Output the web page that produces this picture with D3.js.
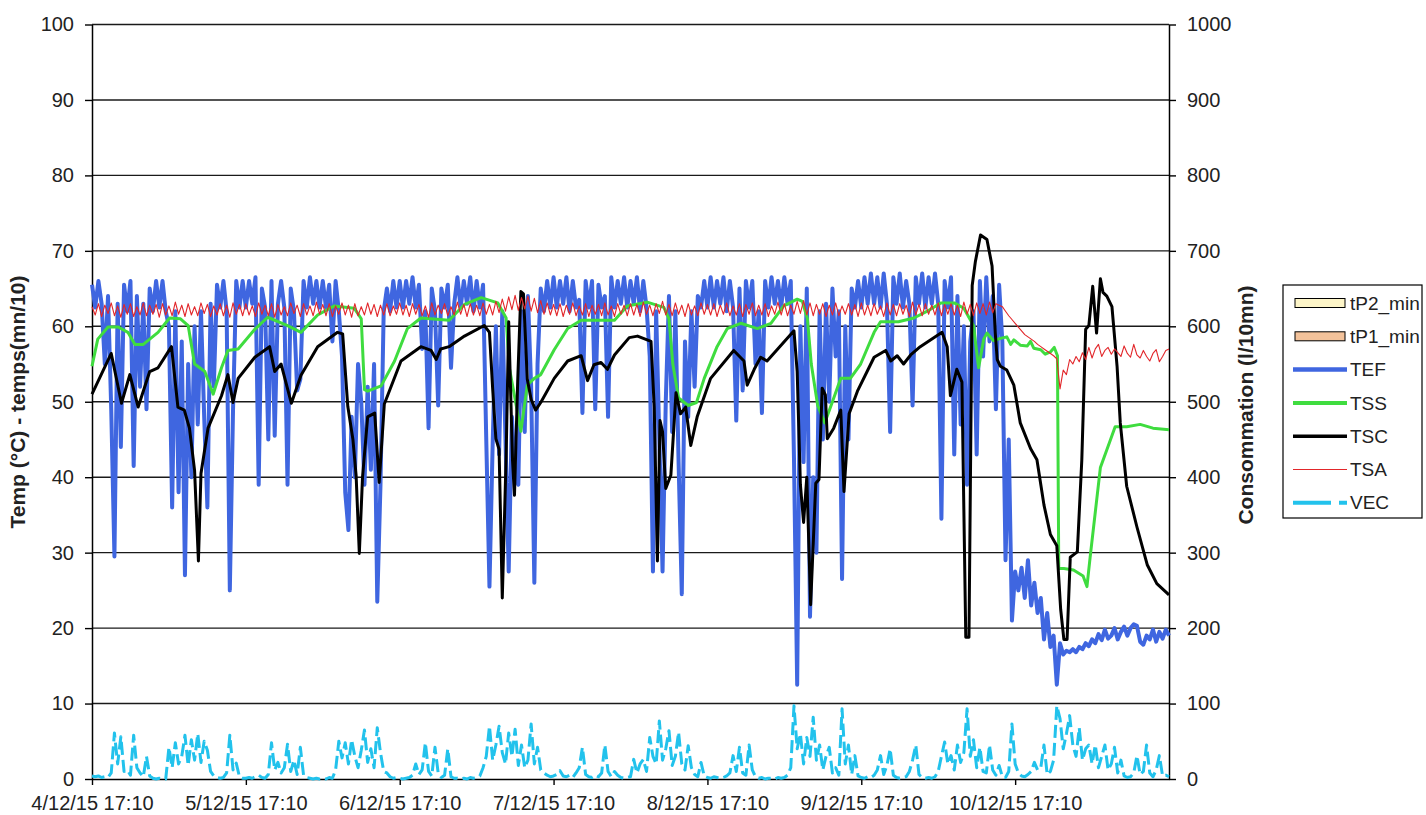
<!DOCTYPE html>
<html>
<head>
<meta charset="utf-8">
<script src="https://cdn.jsdelivr.net/npm/d3@7"></script>
<style>
  body { margin: 0; background: #fff; }
  text { font-family: "Liberation Sans", Arial, sans-serif; }
</style>
</head>
<body>
<script>
// Étiquettes de l'axe du temps (une par jour)
const joursLabels = ["4/12/15 17:10", "5/12/15 17:10", "6/12/15 17:10", "7/12/15 17:10",
  "8/12/15 17:10", "9/12/15 17:10", "10/12/15 17:10"]
const joursHeures = [0, 24, 48, 72, 96, 120, 144]
const dureeHeures = 168
const pasHeures = 0.5 // une valeur toutes les 30 min pour TEF, TSA, VEC

// TEF (°C), une valeur / 30 min, une ligne = 12 h
const tefValeurs = [
  65.5,62.5,66,63,55,64,49,29.5,63,44,65.5,62,66,41.5,64,52,63,49,65,62,66,62.5,66,62,
  60,36,62,38,58,27,55,40,60,47,62,48,36,63,52,65.5,62.5,66,62,25,49,66,62.5,66,
  62.5,66,63,66.5,39,65,62.5,45,66,45.5,63,66,62.5,39,65,62,51.5,53,66,62.5,66.5,63,66,62.5,
  66,62.5,65.5,58,66,62,56,38,33,48,40,55,50,39,52,41,55,23.5,39,62,65,62,66,62.5,
  66,62.5,66,63,66.5,62.5,65.5,57,62,46.5,65,62,49.5,65,62.5,65.5,54.5,63,66.5,62.5,66,63,66.5,62,
  66,62.5,65.5,45,25.5,44.5,60,43,62,45,27.5,48,40,39,62,46,64,52,26,55,65,62,66,62.5,
  66.5,62.5,66,63,66.5,62,66,62.5,63.5,48.5,66,62.5,66,49,65.5,62.5,64,48,66.5,62.5,66,63,66.5,62.5,
  66,63,66.5,62,66,62.5,56,27.5,62,45,27.5,50,64,46,62,42,24.5,58,48,62,52,64,62.5,66,
  62.5,66.5,62.5,66,63,66.5,62,66,62.5,47.5,65,51.5,66,62.5,66,55,62,48.5,66,62.5,66.5,63,66,62.5,
  66.5,63,66,42.5,12.5,60,42,65,21.5,40,30,62,45,63,50,65,56,62,26.5,60,45,65,62.5,66,
  62.5,66.5,63,67,63,66.5,62.5,67,63,46,66.5,63,67,62.5,66,63,49.5,66.5,63,67,62.5,66.5,63,67,
  63,34.5,66,62.5,66.5,43,64,47,60,39,58,62,43,66,56,66.5,58,64,49,65.5,58,29,45,21,
  27.5,25,28,24,29,23,26,22,24,18.5,22,17.5,19,12.5,18,16.5,17,16.8,17.2,16.8,17.5,17.2,18,17.6,
  18.5,18,19.2,18.4,19.8,18.6,19,20,18.5,19.5,20.2,19,20,20.5,20.3,18.2,17.8,19,18.5,19.8,18.2,19.5,18.6,19.8,
  19
]

// TSA (°C), une valeur / 30 min
const tsaValeurs = [
  62.6,61.5,63.0,61.3,62.8,61.7,63.1,61.4,62.7,61.2,62.9,61.6,63.0,61.3,62.6,61.5,63.1,61.4,62.8,61.6,62.9,61.2,63.0,61.5,
  62.7,61.4,63.2,61.6,62.8,61.3,63.0,61.5,62.6,61.4,63.1,61.7,62.9,61.3,62.7,61.5,63.0,61.4,62.8,61.2,63.1,61.6,62.9,61.4,
  63.0,61.5,62.7,61.3,63.1,61.6,62.8,61.4,63.0,61.2,62.9,61.5,62.6,61.4,63.1,61.7,62.8,61.3,63.0,61.5,62.7,61.4,63.2,61.6,
  62.9,61.4,63.0,61.3,62.7,61.6,63.1,61.5,62.8,61.2,63.0,61.4,62.6,61.5,63.1,61.6,62.9,61.3,62.8,61.5,63.0,61.4,62.7,61.6,
  63.1,61.5,62.8,61.3,63.0,61.6,62.9,61.4,62.7,61.2,63.1,61.5,62.8,61.7,63.0,61.4,62.6,61.5,63.2,61.6,62.9,61.3,63.0,61.5,
  62.8,61.4,63.1,61.6,62.9,61.5,63.3,61.8,63.6,62.0,63.9,62.2,64.1,62.1,63.8,62.3,64.0,62.0,63.7,61.8,63.4,61.6,63.1,61.5,
  62.9,61.4,63.0,61.3,62.8,61.6,63.1,61.4,62.7,61.5,63.0,61.3,62.8,61.6,62.9,61.4,63.1,61.5,62.7,61.3,63.0,61.6,62.8,61.4,
  63.0,61.5,62.9,61.3,63.2,61.6,62.8,61.4,63.0,61.7,63.3,61.5,62.9,61.4,63.1,61.6,62.8,61.3,63.0,61.5,62.7,61.4,63.1,61.6,
  62.9,61.5,63.0,61.3,62.8,61.6,63.1,61.4,62.7,61.5,63.0,61.3,62.9,61.6,63.1,61.4,62.8,61.5,63.0,61.3,62.7,61.6,63.2,61.5,
  63.0,61.4,62.8,61.6,63.3,61.7,63.4,61.5,63.1,61.4,62.9,61.6,63.0,61.3,62.8,61.5,63.1,61.4,62.7,61.6,63.0,61.5,62.9,61.3,
  63.1,61.5,62.8,61.4,63.0,61.6,62.7,61.3,63.1,61.5,62.9,61.4,63.0,61.6,62.8,61.3,63.2,61.5,62.9,61.4,63.0,61.6,62.8,61.5,
  63.1,61.4,62.9,61.6,63.0,61.5,62.8,61.3,63.2,61.6,62.9,61.4,63.1,61.7,63.0,61.5,63.2,61.8,63.0,62.8,62.6,62.0,61.4,60.9,
  60.4,59.9,59.4,58.9,58.6,58.3,58.0,57.6,57.3,57.0,56.7,56.4,56.1,55.7,51.7,54.2,53.6,55.6,55.0,56.0,55.3,56.5,55.6,57.2,
  55.8,57.0,57.6,56.0,56.8,57.2,56.3,57.0,56.5,56.0,57.4,56.4,55.9,57.6,56.2,55.8,56.8,56.0,55.4,56.4,56.9,55.3,56.0,56.8,
  57.0
]

// VEC (l/10mn, axe de droite), une valeur / 30 min
const vecValeurs = [
  4,3,4,2,3,2,8,61,20,56,10,12,5,58,15,8,3,30,4,1,0,1,0,0,
  42,15,48,20,30,58,18,52,25,60,22,50,38,10,4,2,1,2,8,58,12,21,3,1,
  1,2,1,3,5,2,1,6,48,12,22,8,15,46,10,25,6,42,5,2,1,0,1,0,
  1,0,2,1,12,50,28,48,20,52,30,15,38,65,22,40,15,68,35,10,8,3,1,2,
  1,0,1,2,5,20,6,12,48,10,4,42,8,2,5,40,3,1,1,0,1,0,2,1,
  2,4,15,30,70,25,45,70,35,20,61,30,66,18,45,15,25,73,20,42,12,8,5,3,
  4,6,11,4,3,5,2,8,15,42,6,3,2,5,3,8,45,10,3,10,5,2,1,2,
  3,26,8,20,26,10,55,30,20,77,25,40,64,18,30,62,20,12,44,15,6,3,22,4,
  2,1,3,2,1,2,4,8,31,10,42,8,5,45,12,3,1,2,0,1,1,0,2,1,
  2,5,15,97,40,60,20,55,30,82,25,45,12,30,42,8,15,5,93,20,45,6,31,4,
  2,1,3,2,5,12,31,6,18,40,5,2,1,2,3,10,25,45,6,2,1,2,1,3,
  10,30,49,20,31,12,45,22,35,93,30,52,15,42,10,8,45,12,5,18,3,2,10,73,
  20,8,4,3,6,10,22,12,15,45,6,10,25,97,80,40,60,84,45,30,68,25,40,45,
  20,45,15,30,45,12,20,42,8,25,4,2,3,8,31,6,10,45,8,3,12,31,4,5,
  3
]

// TSS (°C) : [heure, valeur]
const tssPoints = [
  [0,54.7],[0.9,58.3],[2.5,59.9],[4.1,59.9],[5.6,59.2],[6.7,57.6],[8,57.6],[10.3,59.2],[12.1,61.1],
  [13.8,61],[15,60.1],[16,55],[17.6,54],[18.9,51],[20.2,54.5],[21.2,56.8],[22.8,57],[25.4,59.6],
  [27.4,61.2],[30.5,60.1],[32.6,59.2],[35.2,61.5],[37.8,62.7],[40.9,62.4],[42,61],[42.5,51.6],
  [43,51.4],[45.1,52.1],[47.2,55.4],[49.2,59.7],[51.3,61.1],[55.7,60.8],[58.1,62.9],[60.7,63.8],
  [63.3,63.1],[64.6,61.1],[65.1,54.5],[65.9,50.8],[66.9,46.1],[67.9,52.2],[69,53.1],[70,53.6],
  [72.1,56.9],[74.2,59.7],[76.3,60.8],[81.5,60.8],[83.5,62.7],[86.6,63.2],[89.2,62.5],[90,61],
  [90.6,55],[91.5,50.5],[93,49.5],[94.3,49.9],[95.5,53.1],[97.5,57.3],[99.1,59.7],[101.2,60.4],
  [103.8,59.7],[105.9,60.4],[107.9,62.7],[110,63.6],[110.8,63.3],[111.6,61],[112.2,55],[113.2,49.5],
  [114.3,47.2],[115.5,50],[116.8,53.1],[118.3,53.1],[119.9,55],[122,59.2],[123,60.6],[125.8,60.6],
  [128.2,61.1],[130.3,62],[132.4,63.1],[134.5,63.1],[136,62.4],[137.5,60.1],[138.3,54.5],[139.1,58.3],
  [139.6,59.1],[140.6,58.1],[141.7,58.4],[142.7,58.6],[143.3,57.6],[143.8,58.2],[144.8,57.5],
  [145.9,57.4],[146.4,58],[146.9,57.1],[148,56.9],[148.7,56.3],[149.5,56.6],[150.1,57.2],[150.6,56.1],
  [150.8,27.9],[151.6,27.9],[153.1,27.7],[154.6,26.9],[155.2,25.5],[155.7,29.4],[157.3,41.3],
  [158.8,44.8],[159.6,46.7],[161.4,46.7],[163.5,47],[165.5,46.5],[168,46.3]
]

// TSC (°C) : [heure, valeur]
const tscPoints = [
  [0,51],[3,56.4],[4.6,49.8],[5.9,53.6],[7.2,49.3],[9,54],[10.3,54.5],[12.4,57.3],[13.4,49.3],
  [14.4,48.9],[15.2,46.5],[16,40.9],[16.6,28.9],[17,40.5],[18.1,46.5],[20.2,50.8],[21.2,53.6],
  [22,49.9],[22.8,53.1],[25.4,55.9],[27.7,57.3],[28.5,54],[29.5,55],[31.1,49.8],[32.6,53.5],
  [35.2,57.3],[38.3,59.2],[39.1,59],[39.9,49.4],[40.7,45],[41.2,40.2],[41.7,29.9],[42.2,40],
  [43,48],[44.1,48.5],[44.8,39.3],[45.6,49.7],[48.2,55.4],[51.3,57.3],[52.9,56.8],[53.7,55.6],
  [54.4,57],[55.7,57.3],[58.1,58.7],[61.2,60.1],[62,59.2],[62.5,51.7],[63,45.1],[63.5,43.7],
  [64,24],[64.6,42.7],[65,60.6],[65.6,42.2],[65.9,37.6],[66.4,52.6],[66.9,64.6],[67.3,64.3],
  [67.9,53],[68.5,50.3],[69.2,48.9],[70,49.9],[72.1,53.1],[74.2,55.4],[76.3,56.1],[77.3,52.8],
  [78.3,54.9],[79.4,55.2],[80.4,54.3],[81.5,56.2],[83.8,58.5],[85.1,58.7],[87.2,58],[87.7,49.3],
  [88.2,28.9],[88.6,47.5],[89,46],[89.5,38.5],[90.3,40.3],[91.1,51.2],[91.8,48.4],[92.6,49.3],
  [93.4,44.2],[94.4,48],[96.5,53.1],[100.1,56.8],[101.7,55.4],[102.2,52.2],[103.3,54.3],
  [104.3,55.9],[105.3,55.4],[109.5,59.4],[110,54],[110.5,39],[111,34],[111.5,40],[112.1,23.1],
  [112.9,39.2],[113.4,39.7],[113.9,51.8],[114.4,50.9],[114.7,45.1],[115.7,46.5],[116.8,48.9],
  [117.3,38.1],[118.1,48.4],[119.4,51.4],[122,55.9],[123.8,56.8],[124.6,55.4],[125.6,56.1],
  [126.6,55],[127.7,56.2],[129.2,57.3],[132.6,59.2],[133.4,57.3],[133.9,50.8],[134.9,54.3],
  [135.7,52.6],[136.3,18.8],[136.8,18.8],[137.3,65.4],[137.8,68.6],[138.6,72.1],[139.6,71.5],
  [140.4,68],[140.9,59.1],[141.2,55.6],[141.7,54.7],[142.7,54.2],[143.8,52.2],[144.8,47.2],
  [146.4,43.8],[147.4,42.3],[148.5,36.3],[149.5,32.4],[150.5,30.9],[151.1,22.5],[151.6,18.5],
  [152.1,18.5],[152.6,29.4],[153.7,30.1],[154.4,42.3],[155,59.6],[155.5,60.1],[156.1,65.3],
  [156.7,59.1],[157.3,66.3],[157.7,64.5],[158.3,64],[159.1,62.6],[159.9,54.7],[160.4,47.2],
  [161.4,38.8],[163,33.4],[164.6,28.4],[166.1,25.9],[168,24.4]
]

const legendeNoms = ["tP2_min", "tP1_min", "TEF", "TSS", "TSC", "TSA", "VEC"]

//Création du canva SVG
const svg = d3.select("body")
  .append("svg")
  .attr("width", 1426)
  .attr("height", 815)
  .style("background-color", "#fff")

const gauche = 92, droite = 1169, haut = 24.5, bas = 779

const x = d3.scaleLinear().domain([0, dureeHeures]).range([gauche, droite])
const y = d3.scaleLinear().domain([0, 100]).range([bas, haut])
const y2 = d3.scaleLinear().domain([0, 1000]).range([bas, haut])

// lignes de grille horizontales
svg.append("g")
  .selectAll("line")
  .data(d3.range(10, 101, 10))
  .enter()
  .append("line")
  .attr("x1", gauche)
  .attr("x2", droite)
  .attr("y1", d => y(d))
  .attr("y2", d => y(d))
  .attr("stroke", "#1a1a1a")
  .attr("stroke-width", 1.4)

// axes
const axeGauche = svg.append("g")
  .attr("transform", `translate(${gauche},0)`)
  .call(d3.axisLeft(y).tickValues(d3.range(0, 101, 10)).tickSize(7).tickSizeOuter(0).tickPadding(11))

const axeDroit = svg.append("g")
  .attr("transform", `translate(${droite},0)`)
  .call(d3.axisRight(y2).tickValues(d3.range(0, 1001, 100)).tickSize(7).tickSizeOuter(0).tickPadding(11)
    .tickFormat(d3.format("d")))

const axeBas = svg.append("g")
  .attr("transform", `translate(0,${bas})`)
  .call(d3.axisBottom(x).tickValues(joursHeures).tickSize(6).tickSizeOuter(0).tickPadding(11)
    .tickFormat((d, i) => joursLabels[i]))

for (const axe of [axeGauche, axeDroit, axeBas]) {
  axe.select(".domain").attr("stroke", "#000").attr("stroke-width", 1.5)
  axe.selectAll(".tick line").attr("stroke", "#000").attr("stroke-width", 1.4)
  axe.selectAll("text")
    .attr("fill", "#222")
    .style("font-size", "20px")
    .style("font-family", "'Liberation Sans', Arial, sans-serif")
}

// titres des axes
svg.append("text")
  .attr("transform", "translate(25,402) rotate(-90)")
  .attr("text-anchor", "middle")
  .style("font-size", "21px")
  .style("font-weight", "bold")
  .attr("fill", "#222")
  .text("Temp (°C) - temps(mn/10)")

svg.append("text")
  .attr("transform", "translate(1253,405) rotate(-90)")
  .attr("text-anchor", "middle")
  .style("font-size", "21px")
  .style("font-weight", "bold")
  .attr("fill", "#222")
  .text("Consommation (l/10mn)")

// courbes
const ligneReg = (echelle) => d3.line()
  .x((d, i) => x(i * pasHeures))
  .y(d => echelle(d))

const lignePts = d3.line()
  .x(d => x(d[0]))
  .y(d => y(d[1]))

const courbes = svg.append("g").attr("fill", "none").attr("stroke-linejoin", "round")

courbes.append("path")
  .attr("d", ligneReg(y)(tefValeurs))
  .attr("stroke", "#3f66e0")
  .attr("stroke-width", 4)

courbes.append("path")
  .attr("d", lignePts(tssPoints))
  .attr("stroke", "#3fdc3f")
  .attr("stroke-width", 3)

courbes.append("path")
  .attr("d", lignePts(tscPoints))
  .attr("stroke", "#000")
  .attr("stroke-width", 3)

courbes.append("path")
  .attr("d", ligneReg(y)(tsaValeurs))
  .attr("stroke", "#e2262a")
  .attr("stroke-width", 1.1)

courbes.append("path")
  .attr("d", ligneReg(y2)(vecValeurs))
  .attr("stroke", "#22c2ec")
  .attr("stroke-width", 3)
  .attr("stroke-dasharray", "13,5")

// légende
const legende = svg.append("g")

legende.append("rect")
  .attr("x", 1283)
  .attr("y", 285)
  .attr("width", 139)
  .attr("height", 233)
  .attr("fill", "#fff")
  .attr("stroke", "#000")
  .attr("stroke-width", 1.2)

const styleLegende = [
  { type: "rect", fill: "#fdf5c8" },
  { type: "rect", fill: "#f3c29a" },
  { type: "line", stroke: "#3f66e0", w: 4.5 },
  { type: "line", stroke: "#3fdc3f", w: 4 },
  { type: "line", stroke: "#000", w: 3.5 },
  { type: "line", stroke: "#e2262a", w: 1.1 },
  { type: "line", stroke: "#22c2ec", w: 4, dash: "38,8" }
]

legendeNoms.forEach((nom, i) => {
  const yy = 303 + i * 33.3
  const s = styleLegende[i]
  if (s.type === "rect") {
    legende.append("rect")
      .attr("x", 1295).attr("y", yy - 4.5)
      .attr("width", 50).attr("height", 9)
      .attr("fill", s.fill).attr("stroke", "#000").attr("stroke-width", 1)
  } else {
    legende.append("line")
      .attr("x1", 1293).attr("x2", 1347)
      .attr("y1", yy).attr("y2", yy)
      .attr("stroke", s.stroke).attr("stroke-width", s.w)
      .attr("stroke-dasharray", s.dash || null)
  }
  legende.append("text")
    .attr("x", 1350)
    .attr("y", yy)
    .attr("dy", "0.35em")
    .style("font-size", "19px")
    .attr("fill", "#222")
    .text(nom)
})
</script>
</body>
</html>
